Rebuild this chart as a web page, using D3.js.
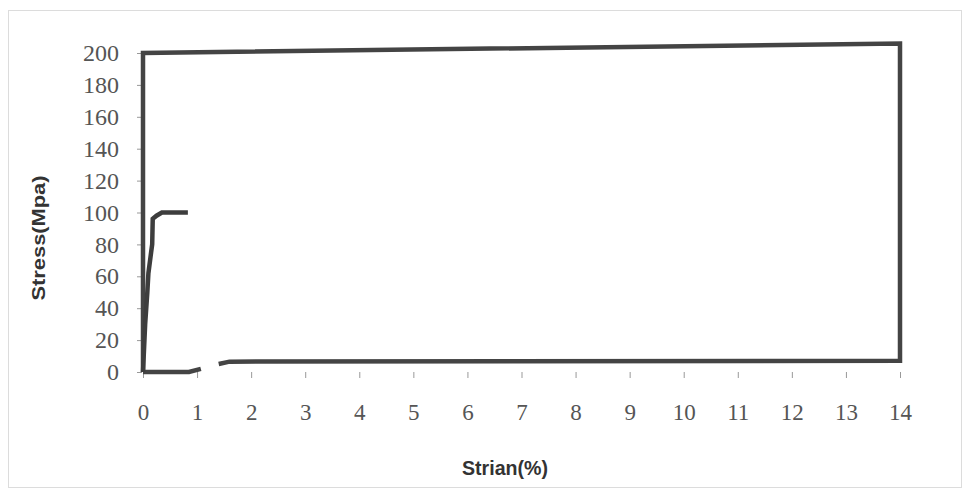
<!DOCTYPE html>
<html><head><meta charset="utf-8">
<script src="https://cdn.jsdelivr.net/npm/d3@7"></script>
<style>body{margin:0;background:#fff;}svg{display:block;}</style>
</head><body>
<script>
// Data
const xTicks = [0,1,2,3,4,5,6,7,8,9,10,11,12,13,14];
const yTicks = [0,20,40,60,80,100,120,140,160,180,200];
const loopStrain = [0.0, 0.0, 14.0, 14.0, 14.0, 14.0, 1.60, 1.40, null, 1.07, 0.85, 0.0];
const loopStress = [0, 200, 206, 105, 95, 7, 6.5, 5, null, 2, 0, 0];
const creepStrain = [0, 0.04, 0.08, 0.10, 0.15, 0.17, 0.18, 0.25, 0.35, 0.83];
const creepStress = [0, 30, 50, 62, 75, 80, 96, 98, 100, 100];
const xTitle = "Strian(%)";
const yTitle = "Stress(Mpa)";

const W = 969, H = 491;
const svg = d3.select("body").append("svg").attr("width", W).attr("height", H);

// chart area border
svg.append("rect").attr("x", 8.5).attr("y", 10.5).attr("width", 953).attr("height", 477)
  .attr("fill", "none").attr("stroke", "#dcdcdc").attr("stroke-width", 1);

const x = d3.scaleLinear().domain([0, 14]).range([143, 900]);
const y = d3.scaleLinear().domain([0, 200]).range([372, 53]);

// x axis
const xAxis = svg.append("g").attr("transform", `translate(0,${y(0)})`)
  .call(d3.axisBottom(x).tickValues(xTicks).tickSize(6).tickPadding(26).tickFormat(d3.format("d")));
xAxis.select(".domain").remove();
xAxis.selectAll(".tick line").attr("stroke", "#999");
xAxis.selectAll(".tick text").attr("fill", "#555")
  .style("font-family", "'Liberation Serif', 'Times New Roman', serif").style("font-size", "23px");

// y axis
const yAxis = svg.append("g").attr("transform", `translate(${x(0) - 1},0)`)
  .call(d3.axisLeft(y).tickValues(yTicks).tickSize(5).tickPadding(18).tickFormat(d3.format("d")));
yAxis.select(".domain").remove();
yAxis.selectAll(".tick line").attr("stroke", "#999");
yAxis.selectAll(".tick text").attr("fill", "#555")
  .style("font-family", "'Liberation Serif', 'Times New Roman', serif").style("font-size", "24px");

// lines
const line = d3.line()
  .defined(d => d[0] !== null && d[1] !== null)
  .x(d => x(d[0])).y(d => y(d[1]));

const loopData = loopStrain.map((v, i) => [v, loopStress[i]]);
const creepData = creepStrain.map((v, i) => [v, creepStress[i]]);

svg.append("path").datum(loopData).attr("d", line)
  .attr("fill", "none").attr("stroke", "#444").attr("stroke-width", 4.5)
  .attr("stroke-linejoin", "miter");
svg.append("path").datum(creepData).attr("d", line)
  .attr("fill", "none").attr("stroke", "#3d3d3d").attr("stroke-width", 4.5)
  .attr("stroke-linejoin", "miter");

// titles
svg.append("text").attr("x", 505).attr("y", 475).attr("text-anchor", "middle")
  .attr("textLength", 86).attr("lengthAdjust", "spacingAndGlyphs")
  .style("font-family", "'Liberation Sans Narrow', 'Liberation Sans', Arial, sans-serif")
  .style("font-weight", "bold").style("font-size", "20px").attr("fill", "#333")
  .text(xTitle);
svg.append("text").attr("transform", "translate(45,238) rotate(-90)").attr("text-anchor", "middle")
  .attr("textLength", 125).attr("lengthAdjust", "spacingAndGlyphs")
  .style("font-family", "'Liberation Sans Narrow', 'Liberation Sans', Arial, sans-serif")
  .style("font-weight", "bold").style("font-size", "18px").attr("fill", "#333")
  .text(yTitle);
</script>
</body></html>
